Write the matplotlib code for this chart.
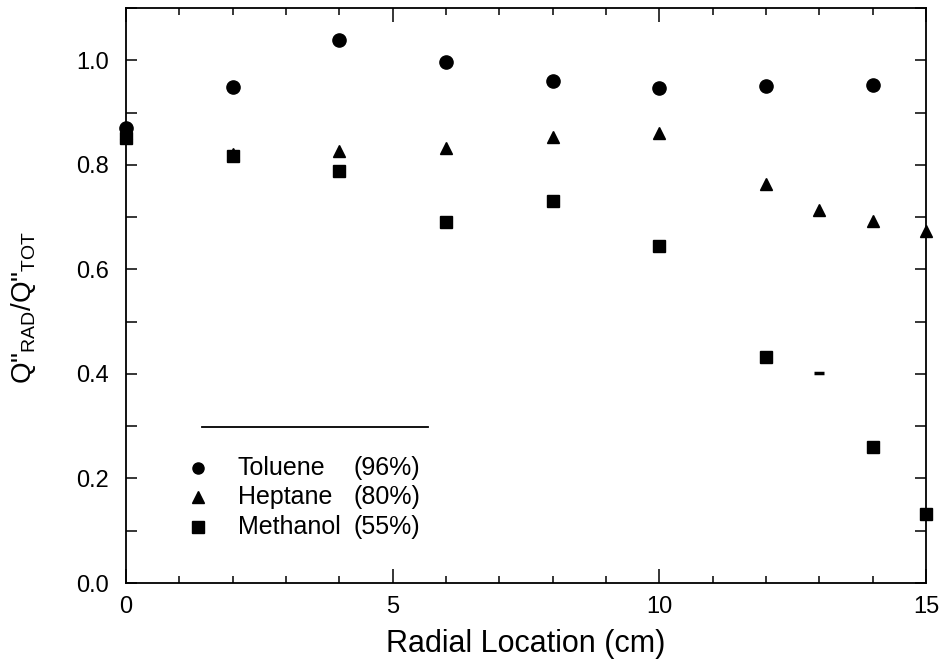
import matplotlib
matplotlib.use("Agg")
import matplotlib.pyplot as plt
from matplotlib.ticker import MultipleLocator

plt.rcParams['font.family'] = ['Liberation Sans', 'DejaVu Sans']
plt.rcParams['mathtext.default'] = 'regular'

# radial positions (cm) and radiative fraction for each fuel
x_toluene = [0, 2, 4, 6, 8, 10, 12, 14]
y_toluene = [0.871, 0.948, 1.038, 0.997, 0.960, 0.946, 0.951, 0.953]

x_heptane = [0, 2, 4, 6, 8, 10, 12, 13, 14, 15]
y_heptane = [0.860, 0.820, 0.827, 0.833, 0.854, 0.861, 0.763, 0.713, 0.693, 0.674]

x_methanol = [0, 2, 4, 6, 8, 10, 12, 14, 15]
y_methanol = [0.852, 0.817, 0.789, 0.691, 0.731, 0.644, 0.432, 0.260, 0.132]

# lone dash mark near 13 cm
x_dash = [13]
y_dash = [0.402]

legend_names = ["Toluene", "Heptane", "Methanol"]
legend_pct = ["(96%)", "(80%)", "(55%)"]
legend_markers = ["o", "^", "s"]

fig = plt.figure(figsize=(9.45, 6.66), dpi=100)
ax = fig.add_axes([0.1333, 0.1246, 0.8466, 0.8634])

ax.plot(x_toluene, y_toluene, "ko", markersize=9.5, clip_on=False)
ax.plot(x_heptane, y_heptane, "k^", markersize=8.5, clip_on=False)
ax.plot(x_methanol, y_methanol, "ks", markersize=8, clip_on=False)
ax.plot(x_dash, y_dash, "k_", markersize=7, markeredgewidth=2.5)

ax.set_xlim(0, 15)
ax.set_ylim(0, 1.1)

ax.xaxis.set_major_locator(MultipleLocator(5))
ax.xaxis.set_minor_locator(MultipleLocator(1))
ax.yaxis.set_major_locator(MultipleLocator(0.2))
ax.yaxis.set_minor_locator(MultipleLocator(0.1))
ax.set_yticks([0.0, 0.2, 0.4, 0.6, 0.8, 1.0])
ax.set_yticklabels(["0.0", "0.2", "0.4", "0.6", "0.8", "1.0"])
ax.set_xticks([0, 5, 10, 15])
ax.set_xticklabels(["0", "5", "10", "15"])

ax.tick_params(which="both", direction="in", top=True, right=True,
               labelsize=17, width=1.1, colors="black")
ax.tick_params(axis="x", which="major", length=10, pad=9)
ax.tick_params(axis="x", which="minor", length=5)
ax.tick_params(axis="y", which="both", length=8, pad=12)
for sp in ax.spines.values():
    sp.set_linewidth(1.3)

ax.set_xlabel("Radial Location (cm)", fontsize=22, labelpad=8)
ax.set_ylabel(r'Q"$_{RAD}$/Q"$_{TOT}$', fontsize=20, labelpad=18)
ax.yaxis.set_label_coords(-0.11, 0.48)

# hand-built legend with a rule above it
ax.plot([0.095, 0.378], [0.272, 0.272], transform=ax.transAxes,
        color="black", linewidth=1.3)
for i, (name, pct, mk) in enumerate(zip(legend_names, legend_pct, legend_markers)):
    ty = 0.200 - i * 0.051
    ax.plot([0.090], [ty], marker=mk, color="black", markersize=8,
            transform=ax.transAxes, clip_on=False)
    ax.text(0.14, ty, name, transform=ax.transAxes, fontsize=18, va="center")
    ax.text(0.284, ty, pct, transform=ax.transAxes, fontsize=18, va="center")

fig.savefig("out.png", dpi=100)
